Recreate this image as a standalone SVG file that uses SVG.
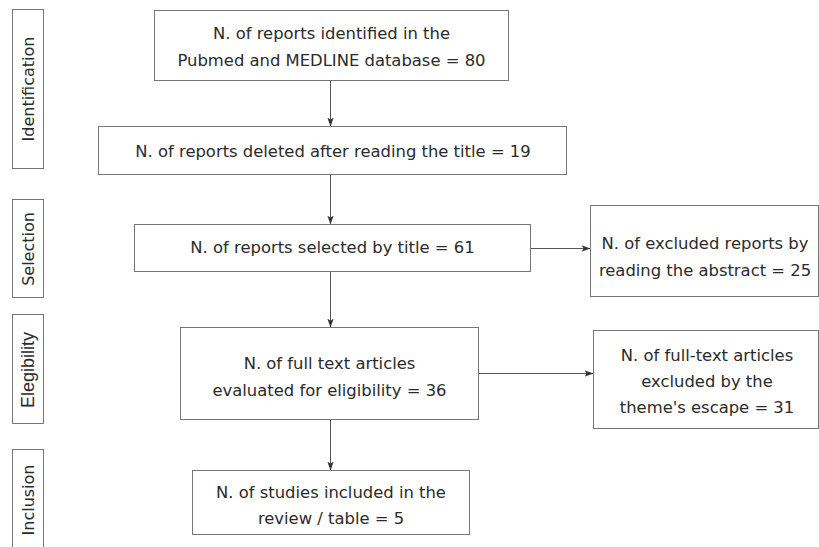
<svg xmlns="http://www.w3.org/2000/svg" width="819" height="547" viewBox="0 0 819 547">
<defs>
<style>
.box{fill:#fff;stroke:#777;stroke-width:1}
.t{font-family:"DejaVu Sans",Verdana,sans-serif;font-size:16.4px;fill:#2b2b2b;text-anchor:middle}
.s{font-family:"DejaVu Sans",Verdana,sans-serif;font-size:16px;fill:#2b2b2b;text-anchor:middle}
.sa{font-family:"Liberation Sans",Arial,sans-serif;font-size:18px;fill:#2b2b2b;text-anchor:middle}
.c{stroke:#555;stroke-width:1;fill:none;marker-end:url(#ah)}
</style>
<marker id="ah" markerWidth="10" markerHeight="8" refX="9" refY="4" orient="auto" markerUnits="userSpaceOnUse">
<path d="M0,0.8 L9,4 L0,7.2 L2.2,4 Z" fill="#333"/>
</marker>
</defs>
<rect width="819" height="547" fill="#fff"/>
<g id="stage-identification">
<rect class="box" x="12.5" y="9.5" width="31" height="159"/>
<text class="s" transform="translate(33.5,89) rotate(-90)">Identification</text>
</g>
<g id="stage-selection">
<rect class="box" x="12.5" y="199.5" width="31" height="98"/>
<text class="s" transform="translate(33.5,249) rotate(-90)">Selection</text>
</g>
<g id="stage-elegibility">
<rect class="box" x="12.5" y="314.5" width="31" height="109"/>
<text class="sa" transform="translate(34,370) rotate(-90)">Elegibility</text>
</g>
<g id="stage-inclusion">
<rect class="box" x="12.5" y="449.5" width="31" height="110"/>
<text class="s" transform="translate(33.5,500) rotate(-90)">Inclusion</text>
</g>
<g id="connectors">
<line class="c" x1="330.5" y1="80.5" x2="330.5" y2="126.5"/>
<line class="c" x1="330.5" y1="174.5" x2="330.5" y2="224.5"/>
<line class="c" x1="330.5" y1="271.5" x2="330.5" y2="327.5"/>
<line class="c" x1="330.5" y1="419.5" x2="330.5" y2="470.5"/>
<line class="c" x1="530.5" y1="248.5" x2="590.5" y2="248.5"/>
<line class="c" x1="478.5" y1="373.5" x2="593.5" y2="373.5"/>
</g>
<g id="n1">
<rect class="box" x="154.5" y="10.5" width="354" height="70"/>
<text class="t" x="331.5" y="39">N. of reports identified in the</text>
<text class="t" x="331.5" y="66">Pubmed and MEDLINE database = 80</text>
</g>
<g id="n2">
<rect class="box" x="98.5" y="126.5" width="468" height="48"/>
<text class="t" x="333" y="157">N. of reports deleted after reading the title = 19</text>
</g>
<g id="n3">
<rect class="box" x="134.5" y="224.5" width="396" height="47"/>
<text class="t" x="332.5" y="253">N. of reports selected by title = 61</text>
</g>
<g id="n4">
<rect class="box" x="590.5" y="205.5" width="228" height="91"/>
<text class="t" x="705" y="249">N. of excluded reports by</text>
<text class="t" x="705" y="276">reading the abstract = 25</text>
</g>
<g id="n5">
<rect class="box" x="180.5" y="327.5" width="298" height="92"/>
<text class="t" x="329.5" y="369">N. of full text articles</text>
<text class="t" x="329.5" y="396">evaluated for eligibility = 36</text>
</g>
<g id="n6">
<rect class="box" x="593.5" y="330.5" width="225" height="98"/>
<text class="t" x="707" y="361">N. of full-text articles</text>
<text class="t" x="707" y="387">excluded by the</text>
<text class="t" x="707" y="413">theme's escape = 31</text>
</g>
<g id="n7">
<rect class="box" x="192.5" y="470.5" width="277" height="64"/>
<text class="t" x="331" y="498">N. of studies included in the</text>
<text class="t" x="331" y="524">review / table = 5</text>
</g>
</svg>
